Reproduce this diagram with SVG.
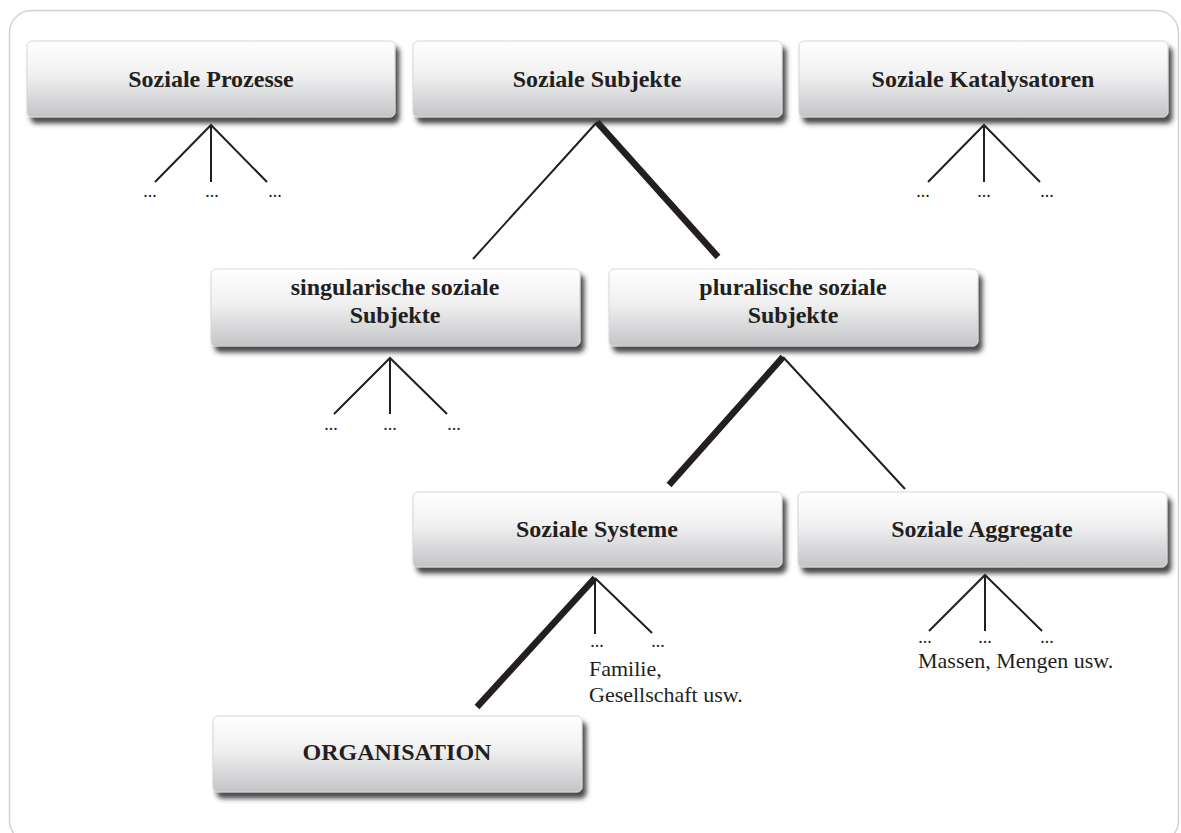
<svg xmlns="http://www.w3.org/2000/svg" width="1181" height="833" viewBox="0 0 1181 833">
<defs>
<linearGradient id="g" x1="0" y1="0" x2="0" y2="1">
<stop offset="0" stop-color="#ffffff"/>
<stop offset="0.45" stop-color="#f0f0f1"/>
<stop offset="1" stop-color="#c3c4c7"/>
</linearGradient>
<filter id="sh" x="-10%" y="-20%" width="125%" height="160%">
<feDropShadow dx="4" dy="6" stdDeviation="2.5" flood-color="#2a2a2a" flood-opacity="0.85"/>
</filter>
</defs>
<style>
.box{fill:url(#g);stroke:#d6d6d6;stroke-width:1;filter:url(#sh)}
.t{font-family:"Liberation Serif","Times New Roman",serif;font-weight:bold;font-size:24px;fill:#231f20;text-anchor:middle}
.thin{stroke:#231f20;stroke-width:2;fill:none}
.thick{stroke:#231f20;stroke-width:6.5;fill:none}
.d{font-family:"Liberation Serif","Times New Roman",serif;font-size:18px;fill:#231f20;text-anchor:middle}
.n{font-family:"Liberation Serif","Times New Roman",serif;font-size:22px;fill:#231f20}
</style>
<rect x="9.5" y="10.5" width="1169" height="832" rx="22" fill="#ffffff" stroke="#d2d2d2" stroke-width="1.5"/>
<g id="connectors">
<path class="thin" d="M155 182 L211 125 L267 182 M211 125 V182"/>
<path class="thin" d="M928 182 L984 125 L1040 182 M984 125 V182"/>
<path class="thin" d="M597 122 L473 259"/>
<path class="thick" d="M597 122 L718 257"/>
<path class="thin" d="M334 414 L390 358 L447 414 M390 358 V414"/>
<path class="thick" d="M783 357 L669 485"/>
<path class="thin" d="M783 357 L905 489"/>
<path class="thick" d="M595 578 L477 707"/>
<path class="thin" d="M595 578 V634 M595 578 L652 633"/>
<path class="thin" d="M929 631 L985 575 L1042 631 M985 575 V631"/>
</g>
<g id="labels">
<text class="d" x="150" y="197">...</text>
<text class="d" x="212" y="197">...</text>
<text class="d" x="275" y="197">...</text>
<text class="d" x="923" y="197">...</text>
<text class="d" x="984" y="197">...</text>
<text class="d" x="1047" y="197">...</text>
<text class="d" x="331" y="430">...</text>
<text class="d" x="390" y="430">...</text>
<text class="d" x="454" y="430">...</text>
<text class="d" x="597" y="647">...</text>
<text class="d" x="658" y="647">...</text>
<text class="d" x="925" y="643">...</text>
<text class="d" x="985" y="643">...</text>
<text class="d" x="1047" y="643">...</text>
<text class="n" x="589" y="676">Familie,</text>
<text class="n" x="589" y="702">Gesellschaft usw.</text>
<text class="n" x="918" y="668">Massen, Mengen usw.</text>
</g>
<g id="n-prozesse"><rect class="box" x="27" y="41" width="368" height="76" rx="5"/><text class="t" x="211" y="87">Soziale Prozesse</text></g>
<g id="n-subjekte"><rect class="box" x="413" y="41" width="369" height="76" rx="5"/><text class="t" x="597" y="87">Soziale Subjekte</text></g>
<g id="n-katalysatoren"><rect class="box" x="799" y="41" width="369" height="76" rx="5"/><text class="t" x="983" y="87">Soziale Katalysatoren</text></g>
<g id="n-singular"><rect class="box" x="211" y="269" width="369" height="77" rx="5"/><text class="t" x="395" y="295">singularische soziale</text><text class="t" x="395" y="323">Subjekte</text></g>
<g id="n-plural"><rect class="box" x="609" y="269" width="369" height="77" rx="5"/><text class="t" x="793" y="295">pluralische soziale</text><text class="t" x="793" y="323">Subjekte</text></g>
<g id="n-systeme"><rect class="box" x="413" y="492" width="369" height="75" rx="5"/><text class="t" x="597" y="537">Soziale Systeme</text></g>
<g id="n-aggregate"><rect class="box" x="798" y="492" width="369" height="75" rx="5"/><text class="t" x="982" y="537">Soziale Aggregate</text></g>
<g id="n-organisation"><rect class="box" x="213" y="716" width="369" height="76" rx="5"/><text class="t" x="397" y="760">ORGANISATION</text></g>
</svg>
